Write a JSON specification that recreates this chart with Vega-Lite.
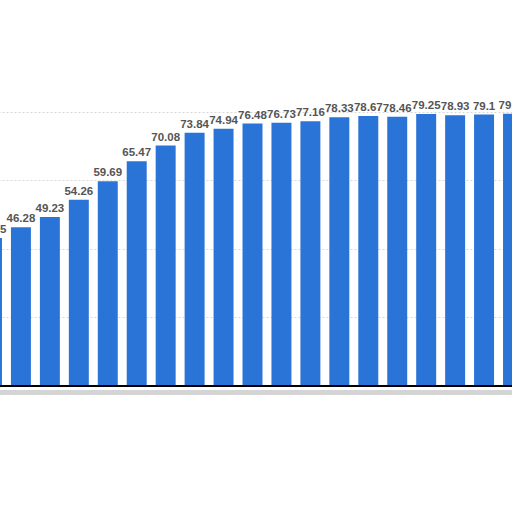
{
  "$schema": "https://vega.github.io/schema/vega-lite/v6.json",
  "width": 512,
  "height": 386,
  "autosize": "none",
  "padding": {"left": 0, "top": 0, "right": 0, "bottom": 126},
  "background": "white",
  "config": {"view": {"stroke": null}},
  "data": {
    "values": [
      {"i": 1, "v": 43.15},
      {"i": 2, "v": 46.28},
      {"i": 3, "v": 49.23},
      {"i": 4, "v": 54.26},
      {"i": 5, "v": 59.69},
      {"i": 6, "v": 65.47},
      {"i": 7, "v": 70.08},
      {"i": 8, "v": 73.84},
      {"i": 9, "v": 74.94},
      {"i": 10, "v": 76.48},
      {"i": 11, "v": 76.73},
      {"i": 12, "v": 77.16},
      {"i": 13, "v": 78.33},
      {"i": 14, "v": 78.67},
      {"i": 15, "v": 78.46},
      {"i": 16, "v": 79.25},
      {"i": 17, "v": 78.93},
      {"i": 18, "v": 79.1},
      {"i": 19, "v": 79.32}
    ]
  },
  "encoding": {
    "x": {
      "field": "i",
      "type": "ordinal",
      "scale": {"range": [-18, 523], "paddingInner": 0.31, "paddingOuter": 0},
      "axis": null
    },
    "y": {
      "field": "v",
      "type": "quantitative",
      "scale": {"domain": [0, 112.5], "nice": false},
      "axis": {
        "title": null, "labels": false, "ticks": false, "domain": false,
        "values": [20, 40, 60, 80],
        "gridColor": "#d8d8d8", "gridDash": [2, 2], "gridWidth": 1
      }
    }
  },
  "layer": [
    {"mark": {"type": "bar", "color": "#2a74d8"}},
    {
      "mark": {"type": "text", "baseline": "bottom", "dy": -3, "fontSize": 11.5, "fontWeight": "bold", "font": "Liberation Sans", "color": "#555555"},
      "encoding": {"text": {"field": "v", "type": "quantitative"}}
    },
    {
      "mark": {"type": "rule", "color": "#d4d4d4", "strokeWidth": 4, "opacity": 0.9},
      "encoding": {"x": null, "y": {"datum": -1.8}}
    },
    {
      "mark": {"type": "rule", "color": "#000000", "strokeWidth": 1.5},
      "encoding": {"x": null, "y": {"datum": 0}}
    }
  ]
}
